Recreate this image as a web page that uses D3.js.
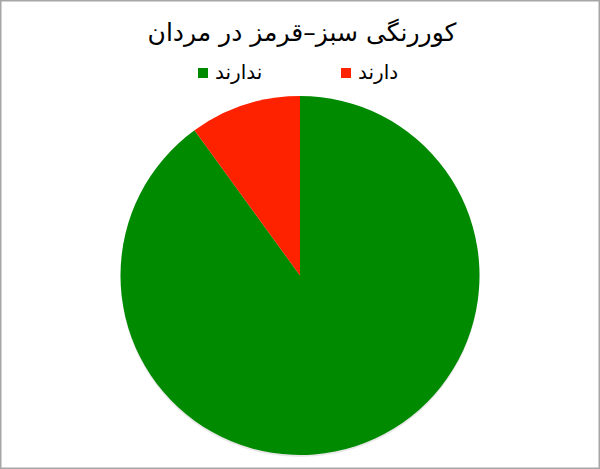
<!DOCTYPE html>
<html>
<head>
<meta charset="utf-8">
<script src="https://cdn.jsdelivr.net/npm/d3@7"></script>
<style>
  body { margin: 0; background: #fff; }
  svg { display: block; }
</style>
</head>
<body>
<svg id="chart"></svg>
<script>
var titleText = "کوررنگی سبز–قرمز در مردان";
var categories = ["ندارند", "دارند"];
var values = [90, 10];
var colors = ["#008a00", "#ff2200"];

var w = 600, h = 469;
var cx = 300, cy = 275.5, r = 179.5;

var svg = d3.select('#chart').attr('width', w).attr('height', h);

// frame
svg.append('rect')
  .attr('x', 0.75).attr('y', 0.75)
  .attr('width', w - 1.5).attr('height', h - 1.5)
  .attr('fill', '#fff')
  .attr('stroke', '#a6a6a6')
  .attr('stroke-width', 1.5);

svg.append('text')
  .attr('x', w / 2 + 2)
  .attr('y', 41)
  .attr('text-anchor', 'middle')
  .attr('direction', 'rtl')
  .attr('font-family', 'DejaVu Sans, sans-serif')
  .attr('font-size', '25px')
  .attr('fill', '#000')
  .text(titleText);

// legend
var legendX = [198, 341];
var legend = svg.selectAll('g.leg')
  .data(categories)
  .join('g')
  .attr('class', 'leg')
  .attr('transform', function(d, i) { return 'translate(' + legendX[i] + ',68)'; });

legend.append('rect')
  .attr('width', 10).attr('height', 10)
  .attr('fill', function(d, i) { return colors[i]; });

legend.append('text')
  .attr('x', 17)
  .attr('y', 11)
  .attr('text-anchor', 'start')
  .attr('font-family', 'DejaVu Sans, sans-serif')
  .attr('font-size', '20px')
  .attr('fill', '#000')
  .text(function(d) { return d; });

// pie
var pie = d3.pie().sort(null).value(function(d) { return d; });
var arc = d3.arc().innerRadius(0).outerRadius(r);

var g = svg.append('g').attr('transform', 'translate(' + cx + ',' + cy + ')');

g.append('circle')
  .attr('cx', 0).attr('cy', 2).attr('r', r)
  .attr('fill', '#d8d8d8')
  .attr('opacity', 0.6);

g.selectAll('path')
  .data(pie(values))
  .join('path')
  .attr('d', arc)
  .attr('fill', function(d, i) { return colors[i]; });
</script>
</body>
</html>
